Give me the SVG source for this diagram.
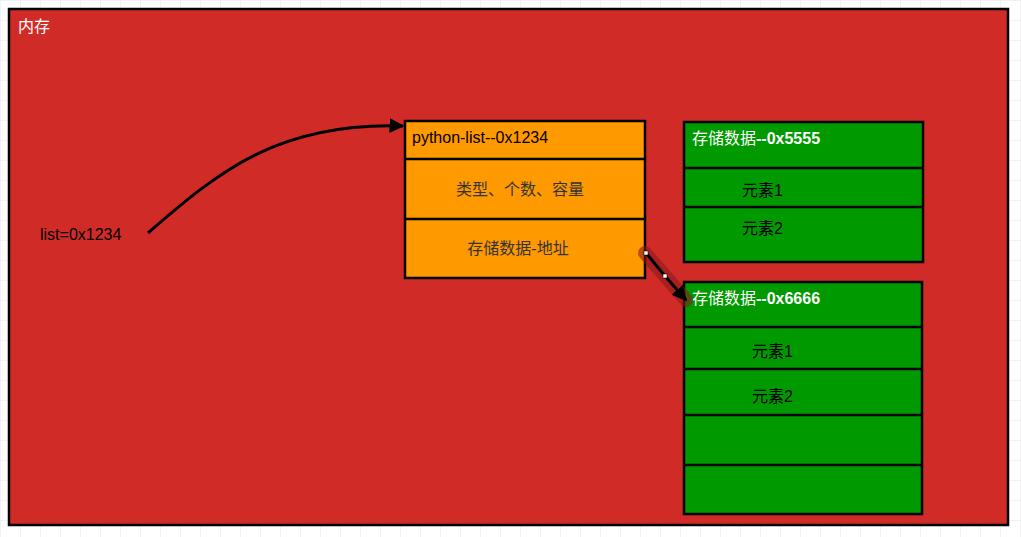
<svg xmlns="http://www.w3.org/2000/svg" width="1021" height="537" viewBox="0 0 1021 537">
<defs>
<pattern id="grid" width="20" height="20" patternUnits="userSpaceOnUse"><path d="M20 0H0V20" fill="none" stroke="#e6e6e6" stroke-width="1"/></pattern>
<marker id="ah" viewBox="0 0 10 10" refX="9" refY="5" markerWidth="5" markerHeight="5" orient="auto"><path d="M0 0L10 5L0 10z" fill="#000"/></marker>
<style>
.box{stroke:#000;stroke-width:2.5}
.ln{stroke:#000;stroke-width:2.5}
.t{font-family:"Liberation Sans","Noto Sans CJK SC",sans-serif;font-size:16px}
.cn{font-family:"Liberation Serif","Noto Sans CJK SC",serif;font-size:16px}
</style>
</defs>
<rect width="1021" height="537" fill="#fff"/>
<rect width="1021" height="537" fill="url(#grid)"/>
<g id="memory">
<rect x="9" y="9" width="999" height="516" fill="#d12b27" class="box"/>
<text x="18" y="32" class="cn" fill="#fff">内存</text>
</g>
<g id="var"><text x="40" y="240" class="t" fill="#000">list=0x1234</text></g>
<g id="pylist">
<rect x="405" y="121" width="240" height="157" fill="#ff9900" class="box"/>
<line x1="405" y1="159" x2="645" y2="159" class="ln"/>
<line x1="405" y1="219" x2="645" y2="219" class="ln"/>
<text x="412" y="143" class="t" fill="#000">python-list--0x1234</text>
<text x="520" y="195" class="cn" fill="#333" text-anchor="middle">类型、个数、容量</text>
<text x="518" y="254" class="cn" fill="#333" text-anchor="middle">存储数据-地址</text>
</g>
<g id="data5555">
<rect x="684" y="122" width="239" height="140" fill="#009900" class="box"/>
<line x1="684" y1="168" x2="923" y2="168" class="ln"/>
<line x1="684" y1="207" x2="923" y2="207" class="ln"/>
<text x="692" y="144" class="t" fill="#fff"><tspan class="cn">存储数据</tspan><tspan font-weight="bold">--0x5555</tspan></text>
<text x="742" y="196" class="t" fill="#000"><tspan class="cn">元素</tspan>1</text>
<text x="742" y="234" class="t" fill="#000"><tspan class="cn">元素</tspan>2</text>
</g>
<g id="data6666">
<rect x="684" y="282" width="238" height="232" fill="#009900" class="box"/>
<line x1="684" y1="327" x2="922" y2="327" class="ln"/>
<line x1="684" y1="369" x2="922" y2="369" class="ln"/>
<line x1="684" y1="415" x2="922" y2="415" class="ln"/>
<line x1="684" y1="465" x2="922" y2="465" class="ln"/>
<text x="692" y="304" class="t" fill="#fff"><tspan class="cn">存储数据</tspan><tspan font-weight="bold">--0x6666</tspan></text>
<text x="752" y="357" class="t" fill="#000"><tspan class="cn">元素</tspan>1</text>
<text x="752" y="402" class="t" fill="#000"><tspan class="cn">元素</tspan>2</text>
</g>
<g id="connectors" fill="none">
<path d="M148 233C220 170 280 122 403 126" stroke="#000" stroke-width="3" marker-end="url(#ah)"/>
<path d="M645 253L686 300" stroke="#8b1a1a" stroke-width="14" stroke-linecap="round" opacity="0.6"/>
<path d="M646 253L665 276L686 300" stroke="#000" stroke-width="3" marker-end="url(#ah)"/>
<rect x="644" y="251" width="4" height="4" fill="#fff" stroke="#000" stroke-width="0.5"/>
<rect x="663" y="274" width="4" height="4" fill="#fff" stroke="#000" stroke-width="0.5"/>
</g>
</svg>
